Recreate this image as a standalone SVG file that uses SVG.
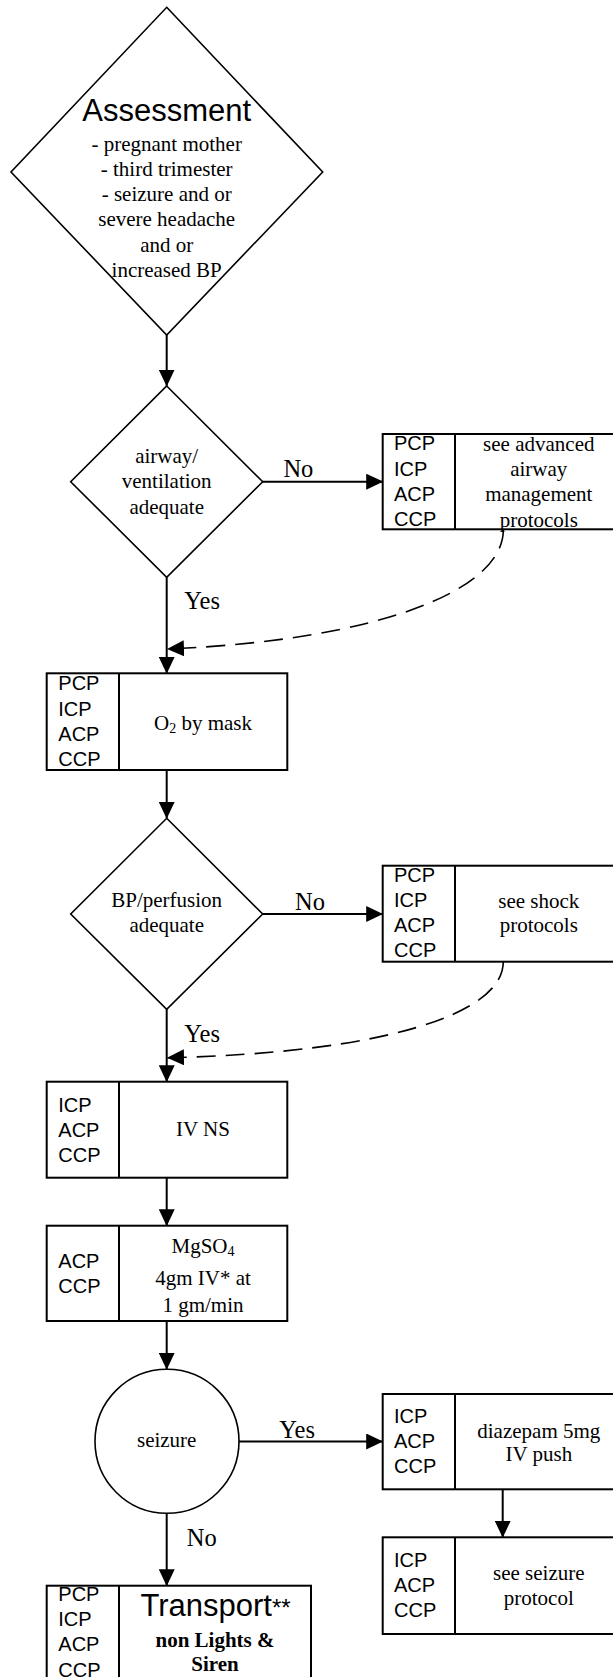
<svg xmlns="http://www.w3.org/2000/svg" width="613" height="1677" viewBox="0 0 613 1677">
<style>
.bg{fill:#fff}
.box{fill:#fff;stroke:#000;stroke-width:2}
.dia{fill:#fff;stroke:#000;stroke-width:1.6}
.div{stroke:#000;stroke-width:2}
.con{fill:none;stroke:#000;stroke-width:2}
.dash{fill:none;stroke:#000;stroke-width:1.6;stroke-dasharray:19 10}
.role{font-family:"Liberation Sans",Arial,sans-serif;font-size:20px;fill:#000}
.txt{font-family:"Liberation Serif","Times New Roman",serif;font-size:21px;fill:#000;text-anchor:middle}
.lbl{font-family:"Liberation Serif","Times New Roman",serif;font-size:24.5px;fill:#000}
.big{font-family:"Liberation Sans",Arial,sans-serif;font-size:31px;fill:#000;text-anchor:middle}
.bold{font-weight:bold}
</style>
<defs>
<marker id="arr" markerUnits="userSpaceOnUse" viewBox="0 0 17 16" markerWidth="17" markerHeight="16" refX="16.5" refY="8" orient="auto">
<path d="M0,0 L17,8 L0,16 Z" fill="#000" stroke="none"/>
</marker>
</defs>
<rect class="bg" x="0" y="0" width="613" height="1677"/>

<g id="connectors">
<line class="con" x1="166.7" y1="335" x2="166.7" y2="386" marker-end="url(#arr)"/>
<line class="con" x1="262.7" y1="481.7" x2="382.7" y2="481.7" marker-end="url(#arr)"/>
<line class="con" x1="166.7" y1="577.3" x2="166.7" y2="673.3" marker-end="url(#arr)"/>
<path class="dash" d="M503.3,530 C503.3,590 380,640 167.5,649" marker-end="url(#arr)"/>
<line class="con" x1="166.7" y1="770" x2="166.7" y2="818.3" marker-end="url(#arr)"/>
<line class="con" x1="262.7" y1="914" x2="382.7" y2="914" marker-end="url(#arr)"/>
<line class="con" x1="166.7" y1="1009.3" x2="166.7" y2="1081.7" marker-end="url(#arr)"/>
<path class="dash" d="M503.3,961.7 C503.3,1015 380,1053 167.5,1057.7" marker-end="url(#arr)"/>
<line class="con" x1="166.7" y1="1177.7" x2="166.7" y2="1225.7" marker-end="url(#arr)"/>
<line class="con" x1="166.7" y1="1321" x2="166.7" y2="1369.3" marker-end="url(#arr)"/>
<line class="con" x1="239" y1="1441.5" x2="382.7" y2="1441.5" marker-end="url(#arr)"/>
<line class="con" x1="502.7" y1="1489.3" x2="502.7" y2="1537.3" marker-end="url(#arr)"/>
<line class="con" x1="166.7" y1="1513.3" x2="166.7" y2="1585.7" marker-end="url(#arr)"/>
<text class="lbl" x="283.4" y="477.3">No</text>
<text class="lbl" x="184.3" y="609.3">Yes</text>
<text class="lbl" x="295" y="910">No</text>
<text class="lbl" x="184.3" y="1041.7">Yes</text>
<text class="lbl" x="279.3" y="1438">Yes</text>
<text class="lbl" x="186.7" y="1546">No</text>
</g>

<g id="assessment">
<polygon class="dia" points="166.7,7.3 322.7,172 166.7,335 11,172"/>
<text class="big" x="166.7" y="120.7">Assessment</text>
<text class="txt" x="166.7" y="150.7">- pregnant mother</text>
<text class="txt" x="166.7" y="175.9">- third trimester</text>
<text class="txt" x="166.7" y="201.1">- seizure and or</text>
<text class="txt" x="166.7" y="226.3">severe headache</text>
<text class="txt" x="166.7" y="251.5">and or</text>
<text class="txt" x="166.7" y="277.2">increased BP</text>
</g>

<g id="airway">
<polygon class="dia" points="166.7,386 262.7,481.7 166.7,577.3 70.7,481.7"/>
<text class="txt" x="166.7" y="463.3">airway/</text>
<text class="txt" x="166.7" y="488.3">ventilation</text>
<text class="txt" x="166.7" y="513.5">adequate</text>
</g>

<g id="advanced-airway">
<rect class="box" x="382.7" y="434" width="240" height="95.3"/>
<line class="div" x1="455" y1="434" x2="455" y2="529.3"/>
<text class="role"><tspan x="394" y="450">PCP</tspan><tspan x="394" y="475.5">ICP</tspan><tspan x="394" y="500.7">ACP</tspan><tspan x="394" y="526">CCP</tspan></text>
<text class="txt" x="538.8" y="450.7">see advanced</text>
<text class="txt" x="538.8" y="475.7">airway</text>
<text class="txt" x="538.8" y="500.7">management</text>
<text class="txt" x="538.8" y="526.5">protocols</text>
</g>

<g id="oxygen">
<rect class="box" x="46.7" y="673.3" width="240.6" height="96.7"/>
<line class="div" x1="119" y1="673.3" x2="119" y2="770"/>
<text class="role"><tspan x="58.3" y="690">PCP</tspan><tspan x="58.3" y="715.7">ICP</tspan><tspan x="58.3" y="740.7">ACP</tspan><tspan x="58.3" y="765.7">CCP</tspan></text>
<text class="txt" x="203" y="730">O<tspan font-size="14" dy="3">2</tspan><tspan dy="-3"> by mask</tspan></text>
</g>

<g id="bp">
<polygon class="dia" points="166.7,818.3 262.7,914 166.7,1009.3 70.7,914"/>
<text class="txt" x="166.7" y="907.3">BP/perfusion</text>
<text class="txt" x="166.7" y="932.3">adequate</text>
</g>

<g id="shock">
<rect class="box" x="382.7" y="865.7" width="240" height="96"/>
<line class="div" x1="455" y1="865.7" x2="455" y2="961.7"/>
<text class="role"><tspan x="394" y="881.7">PCP</tspan><tspan x="394" y="906.7">ICP</tspan><tspan x="394" y="932.3">ACP</tspan><tspan x="394" y="957.3">CCP</tspan></text>
<text class="txt" x="538.8" y="907.7">see shock</text>
<text class="txt" x="538.8" y="932.3">protocols</text>
</g>

<g id="iv-ns">
<rect class="box" x="46.7" y="1081.7" width="240.6" height="96"/>
<line class="div" x1="119" y1="1081.7" x2="119" y2="1177.7"/>
<text class="role"><tspan x="58.3" y="1111.7">ICP</tspan><tspan x="58.3" y="1136.7">ACP</tspan><tspan x="58.3" y="1161.7">CCP</tspan></text>
<text class="txt" x="203" y="1136">IV NS</text>
</g>

<g id="mgso4">
<rect class="box" x="46.7" y="1225.7" width="240.6" height="95.3"/>
<line class="div" x1="119" y1="1225.7" x2="119" y2="1321"/>
<text class="role"><tspan x="58.3" y="1267.7">ACP</tspan><tspan x="58.3" y="1292.7">CCP</tspan></text>
<text class="txt" x="203" y="1253">MgSO<tspan font-size="14" dy="3">4</tspan></text>
<text class="txt" x="203" y="1285">4gm IV* at</text>
<text class="txt" x="203" y="1311.7">1 gm/min</text>
</g>

<g id="seizure">
<circle class="dia" cx="167" cy="1441.3" r="72"/>
<text class="txt" x="166.7" y="1447.3">seizure</text>
</g>

<g id="diazepam">
<rect class="box" x="382.7" y="1394" width="240" height="95.3"/>
<line class="div" x1="455" y1="1394" x2="455" y2="1489.3"/>
<text class="role"><tspan x="394" y="1422.7">ICP</tspan><tspan x="394" y="1447.7">ACP</tspan><tspan x="394" y="1473.3">CCP</tspan></text>
<text class="txt" x="538.8" y="1437.5">diazepam 5mg</text>
<text class="txt" x="538.8" y="1461">IV push</text>
</g>

<g id="seizure-protocol">
<rect class="box" x="382.7" y="1537.3" width="240" height="96.7"/>
<line class="div" x1="455" y1="1537.3" x2="455" y2="1634"/>
<text class="role"><tspan x="394" y="1566.7">ICP</tspan><tspan x="394" y="1591.7">ACP</tspan><tspan x="394" y="1616.7">CCP</tspan></text>
<text class="txt" x="538.8" y="1580">see seizure</text>
<text class="txt" x="538.8" y="1604.5">protocol</text>
</g>

<g id="transport">
<rect class="box" x="46.7" y="1585.7" width="264.3" height="110"/>
<line class="div" x1="119" y1="1585.7" x2="119" y2="1695.7"/>
<text class="role"><tspan x="58.3" y="1600.5">PCP</tspan><tspan x="58.3" y="1625.5">ICP</tspan><tspan x="58.3" y="1651">ACP</tspan><tspan x="58.3" y="1676.5">CCP</tspan></text>
<text class="big" x="215.5" y="1616">Transport<tspan font-size="24">**</tspan></text>
<text class="txt bold" x="215" y="1646.7">non Lights &amp;</text>
<text class="txt bold" x="215" y="1671">Siren</text>
</g>
</svg>
